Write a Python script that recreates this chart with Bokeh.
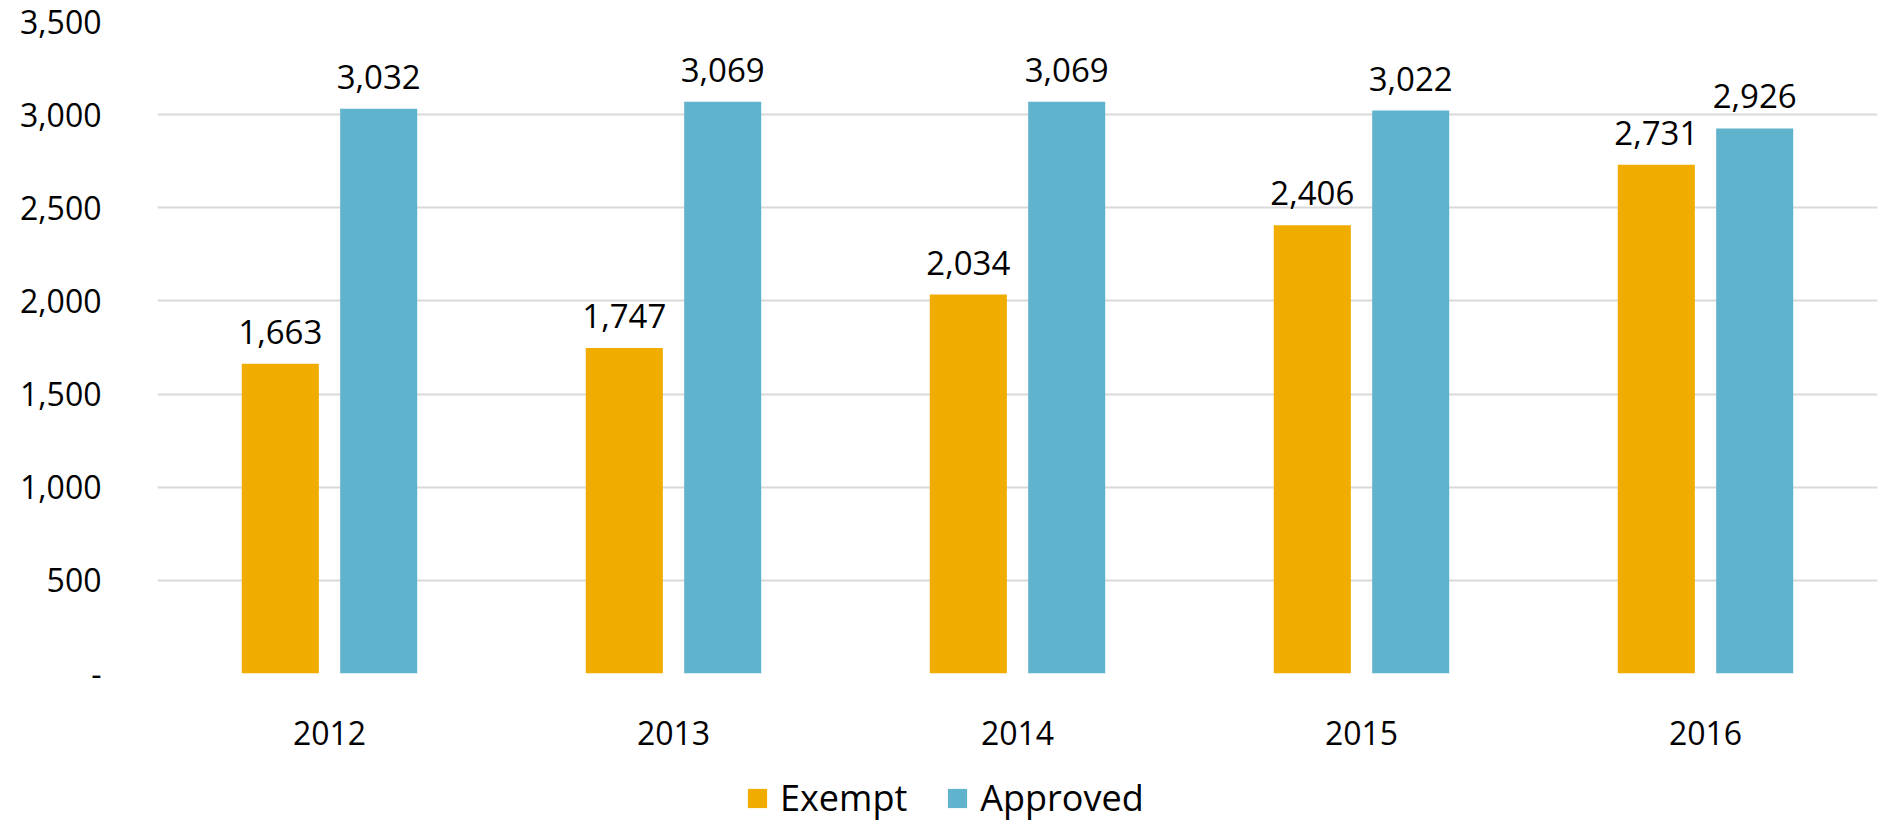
from bokeh.plotting import figure
from bokeh.models import (ColumnDataSource, FactorRange, Range1d, Legend, LegendItem,
                          NumeralTickFormatter, LabelSet, Plot, VBar, CategoricalScale, LinearScale)
from bokeh.layouts import column
from bokeh.transform import dodge
from bokeh.core.properties import value
from bokeh.embed import file_html
from bokeh.resources import INLINE

years = ["2012", "2013", "2014", "2015", "2016"]
exempt = [1663, 1747, 2034, 2406, 2731]
approved = [3032, 3069, 3069, 3022, 2926]
series_names = ["Exempt", "Approved"]
series_cols = ["exempt", "approved"]
series_colors = ["#F0AD00", "#60B3CD"]
y_ticks = [0, 500, 1000, 1500, 2000, 2500, 3000, 3500]

FONT = "Open Sans"

src = ColumnDataSource(dict(
    year=years,
    exempt=exempt,
    approved=approved,
    exempt_lbl=[f"{v:,}" for v in exempt],
    approved_lbl=[f"{v:,}" for v in approved],
))

W = 1880
x_range = FactorRange(*years, range_padding=0)
p = figure(width=W, height=762, x_range=x_range,
           y_range=Range1d(0, 3500), output_backend="svg", toolbar_location=None,
           min_border_left=157, min_border_right=3, min_border_top=21, min_border_bottom=89)
p.outline_line_color = None
p.background_fill_color = "white"

offsets = [-0.143, 0.143]
for off, col, colr in zip(offsets, series_cols, series_colors):
    p.vbar(x=dodge("year", off, range=x_range), top=col, width=0.224,
           source=src, color=colr, line_color=None)
    p.add_layout(LabelSet(x=dodge("year", off, range=x_range), y=col, text=col + "_lbl",
                          source=src, text_align="center", text_baseline="bottom", y_offset=20,
                          text_font=value(FONT), text_font_size="33px", text_color="#000000"))

p.ygrid.grid_line_color = "#d9d9d9"
p.ygrid.grid_line_width = 2
p.xgrid.grid_line_color = None
p.yaxis.ticker = y_ticks
p.yaxis.formatter = NumeralTickFormatter(format="0,0")
p.yaxis.major_label_overrides = {0: "-"}

for ax in (p.xaxis[0], p.yaxis[0]):
    ax.axis_line_color = None
    ax.major_tick_line_color = None
    ax.minor_tick_line_color = None
    ax.major_label_text_font = FONT
    ax.major_label_text_font_size = "32px"
    ax.major_label_text_color = "#000000"
p.yaxis.major_label_standoff = 50
p.xaxis.major_label_standoff = 41

# legend strip below the chart (glyphs lie outside its visible y range)
lp = Plot(width=W, height=60, x_range=x_range, y_range=Range1d(10000, 11000),
          x_scale=CategoricalScale(), y_scale=LinearScale(),
          toolbar_location=None, output_backend="svg", min_border=0,
          outline_line_color=None)
items = []
for name, col, colr in zip(series_names, series_cols, series_colors):
    r = lp.add_glyph(src, VBar(x="year", top=col, width=0.2, fill_color=colr, line_color=None))
    items.append(LegendItem(label=name, renderers=[r]))
legend = Legend(items=items, orientation="horizontal", location=(588, 0),
                label_text_font=FONT, label_text_font_size="36px", label_text_color="#000000",
                glyph_width=24, glyph_height=24, label_standoff=11, spacing=38,
                border_line_color=None, background_fill_alpha=0, padding=0, margin=0)
lp.add_layout(legend, "center")

layout = column(p, lp, spacing=0)
open("out.html", "w").write(file_html(layout, INLINE))
